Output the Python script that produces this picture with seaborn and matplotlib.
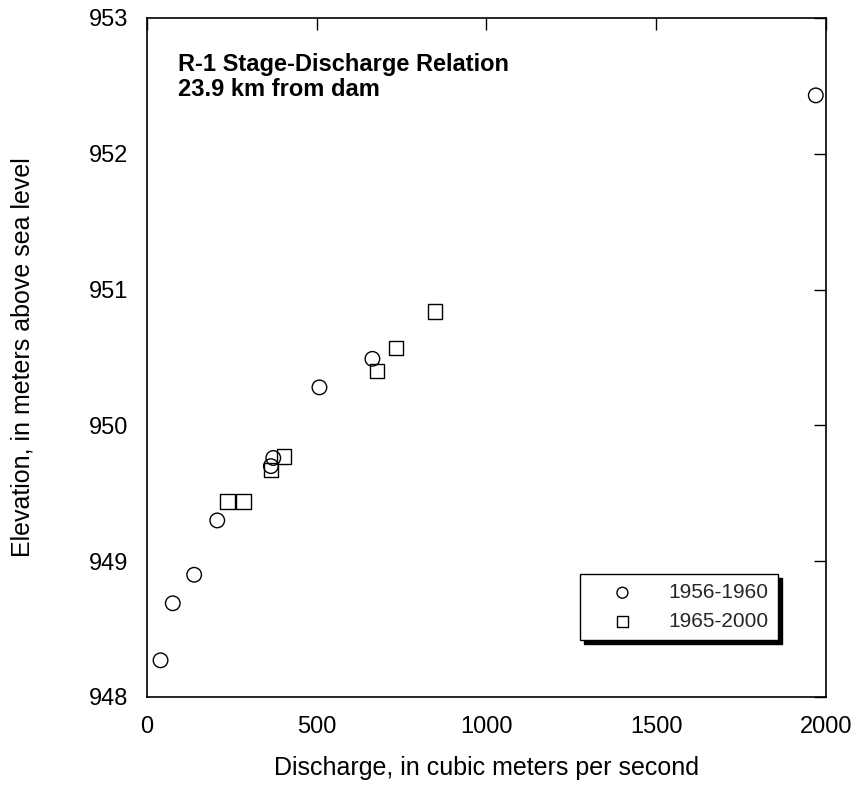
import matplotlib
matplotlib.use("Agg")
import matplotlib.pyplot as plt
import seaborn as sns
import pandas as pd

sns.set_theme(style="white")
plt.rcParams['font.family'] = ['Liberation Sans', 'DejaVu Sans']

# Data
q_early = [40, 76, 139, 207, 365, 372, 508, 664, 1970]
z_early = [948.27, 948.69, 948.90, 949.30, 949.70, 949.76, 950.28, 950.49, 952.43]
q_late = [237, 284, 365, 404, 678, 733, 848]
z_late = [949.44, 949.44, 949.67, 949.77, 950.40, 950.57, 950.84]
label_early = "1956-1960"
label_late = "1965-2000"

df_e = pd.DataFrame({"q": q_early, "z": z_early})
df_l = pd.DataFrame({"q": q_late, "z": z_late})

fig = plt.figure(figsize=(8.57, 7.88), dpi=100)
ax = fig.add_axes([0.1715, 0.1155, 0.7923, 0.8617])

sns.scatterplot(data=df_e, x="q", y="z", ax=ax, marker="o", s=110,
                facecolor="none", edgecolor="black", linewidth=1.0, label=label_early)
sns.scatterplot(data=df_l, x="q", y="z", ax=ax, marker="s", s=110,
                facecolor="none", edgecolor="black", linewidth=1.0, label=label_late)

ax.set_xlim(0, 2000)
ax.set_ylim(948, 953)
ax.set_xticks([0, 500, 1000, 1500, 2000])
ax.set_yticks([948, 949, 950, 951, 952, 953])
ax.tick_params(direction="in", length=8.5, width=1, color="black",
               top=True, right=True, labelsize=17, pad=13.5, labelcolor="black")
for sp in ax.spines.values():
    sp.set_color("black")
    sp.set_linewidth(1.2)

ax.set_xlabel("Discharge, in cubic meters per second", fontsize=18, color="black", va="top")
ax.set_ylabel("Elevation, in meters above sea level", fontsize=18, color="black")
ax.xaxis.set_label_coords(0.5, -0.087)
ax.yaxis.set_label_coords(-0.166, 0.5)

ax.text(0.045, 0.948, "R-1 Stage-Discharge Relation\n23.9 km from dam",
        transform=ax.transAxes, fontsize=17, fontweight="bold", va="top", ha="left",
        linespacing=1.1, color="black")

leg = ax.legend(loc="lower right", bbox_to_anchor=(0.929, 0.084), fontsize=15,
                frameon=True, fancybox=False, markerscale=0.75,
                shadow={"ox": 3, "oy": -3, "facecolor": "black", "edgecolor": "black", "alpha": 1},
                borderpad=0.45, handlelength=3.2, handletextpad=0.6,
                labelspacing=0.45, borderaxespad=0)
leg.get_frame().set_edgecolor("black")
leg.get_frame().set_linewidth(1.0)
leg.get_frame().set_facecolor("white")
leg.get_frame().set_alpha(1)

fig.savefig("out.png", dpi=100)
